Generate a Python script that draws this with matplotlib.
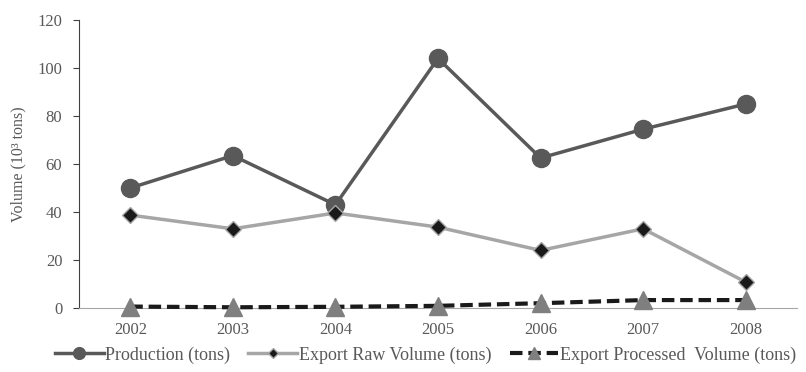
import matplotlib

matplotlib.use("Agg")
import matplotlib.pyplot as plt  # noqa: E402

years = ["2002", "2003", "2004", "2005", "2006", "2007", "2008"]
production = [50, 63.5, 43, 104, 62.5, 74.5, 85]
export_raw = [38.7, 33, 39.6, 33.7, 24, 33, 10.8]
export_processed = [0.6, 0.3, 0.5, 0.9, 2.0, 3.3, 3.3]

INK = "#595959"
LIGHT = "#a6a6a6"
TRI = "#7f7f7f"

plt.rcParams.update({"font.family": "Liberation Serif", "font.size": 11.5})

fig = plt.figure(figsize=(8.06, 3.72), dpi=100)
ax = fig.add_axes([79 / 806, 1 - 308 / 372, (797 - 79) / 806, (308 - 20) / 372])

x = range(len(years))
ax.plot(x, production, "-o", color=INK, lw=2.5, ms=13, mfc=INK, mec=INK,
        zorder=3, label="Production (tons)")
ax.plot(x, export_raw, "-D", color=LIGHT, lw=2.5, ms=8, mfc="#1a1a1a",
        mec=LIGHT, mew=1, zorder=4, label="Export Raw Volume (tons)")
ax.plot(x, export_processed, "--^", color="#1a1a1a", lw=3, ms=13, mfc=TRI,
        mec=TRI, dashes=(3, 1.4), zorder=5, clip_on=False,
        label="Export Processed  Volume (tons)")

ax.set_xlim(-0.5, len(years) - 0.5)
ax.set_ylim(0, 120)
ax.set_yticks(range(0, 121, 20))
ax.set_xticks(list(x))
ax.set_xticklabels(years)
ax.set_ylabel("Volume (10³ tons)", color=INK, fontsize=11.5, labelpad=8)

for side in ("top", "right"):
    ax.spines[side].set_visible(False)
ax.spines["left"].set_color("#404040")
ax.spines["bottom"].set_color(LIGHT)
ax.tick_params(axis="y", colors=INK, length=4, direction="out", pad=8)
ax.tick_params(axis="y", color="#404040")
ax.tick_params(axis="x", colors=INK, length=0, pad=10)
ax.tick_params(axis="both", labelsize=12)
for lbl in ax.get_xticklabels() + ax.get_yticklabels():
    lbl.set_color(INK)

leg = fig.legend(loc="center", bbox_to_anchor=(0.528, 1 - 355 / 372), ncol=3,
                 frameon=False, fontsize=13, handlelength=2.7, handletextpad=0.1,
                 columnspacing=1.0, labelcolor=INK, markerscale=0.65)

fig.savefig("out.png", dpi=100, facecolor="white")
